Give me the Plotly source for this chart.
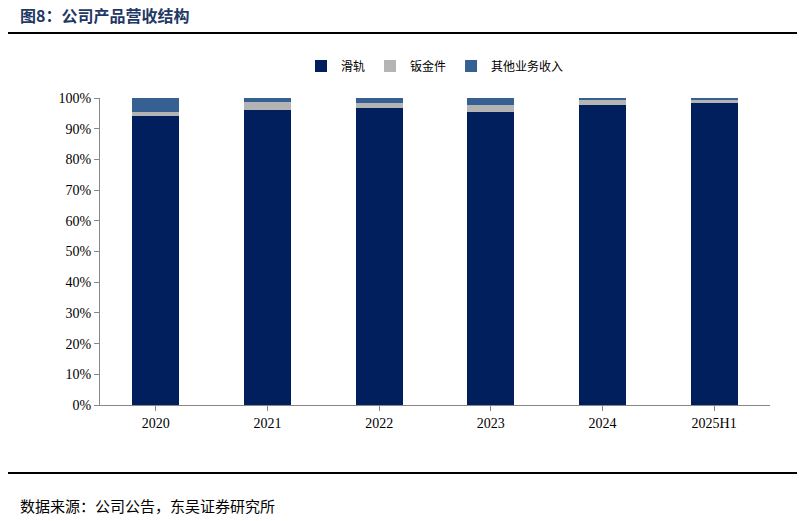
import plotly.graph_objects as go

categories = ["2020", "2021", "2022", "2023", "2024", "2025H1"]
slide = [94.2, 96.2, 96.9, 95.6, 97.7, 98.3]
sheet = [1.2, 2.4, 1.5, 2.2, 1.6, 0.9]
other = [4.6, 1.4, 1.6, 2.2, 0.7, 0.8]
yticks = list(range(0, 101, 10))
ytext = [f"{v}%" for v in yticks]

fig = go.Figure()
for name, vals, col in [("滑轨", slide, "#001F5C"), ("钣金件", sheet, "#B4B4B4"), ("其他业务收入", other, "#376092")]:
    fig.add_trace(go.Bar(x=categories, y=vals, name=name, marker=dict(color=col, line=dict(width=0)), width=0.42))

fig.update_layout(
    barmode="stack", width=805, height=521, paper_bgcolor="white", plot_bgcolor="white",
    margin=dict(l=92, r=43, t=90, b=124),
    font=dict(family="Noto Sans CJK SC, Liberation Serif", size=13, color="#000"),
    legend=dict(orientation="h", x=0.5, xanchor="center", y=1.104, yanchor="middle", font=dict(size=12), traceorder="normal"),
    xaxis=dict(showline=True, linecolor="#888", ticks="outside", tickcolor="#888", ticklen=5,
               tickfont=dict(family="Liberation Serif", size=14)),
    yaxis=dict(range=[0, 100], tickvals=yticks, ticktext=ytext, showgrid=False, showline=True, linecolor="#888",
               ticks="outside", tickcolor="#888", ticklen=5, tickfont=dict(family="Liberation Serif", size=14)),
    showlegend=True,
)
fig.add_annotation(text="<b>图8：公司产品营收结构</b>", xref="paper", yref="paper", x=-0.122, y=1.270, xanchor="left",
                   yanchor="middle", showarrow=False, font=dict(size=16, color="#1F3864", family="Noto Sans CJK SC"))
fig.add_annotation(text="数据来源：公司公告，东吴证券研究所", xref="paper", yref="paper", x=-0.122, y=-0.326, xanchor="left",
                   yanchor="middle", showarrow=False, font=dict(size=15, color="#000", family="Noto Sans CJK SC"))
fig.add_shape(type="line", xref="paper", yref="paper", x0=-0.14, x1=1.045, y0=1.212, y1=1.212, line=dict(color="#000", width=2))
fig.add_shape(type="line", xref="paper", yref="paper", x0=-0.14, x1=1.045, y0=-0.2215, y1=-0.2215, line=dict(color="#000", width=2))
fig.write_html("out.html")
